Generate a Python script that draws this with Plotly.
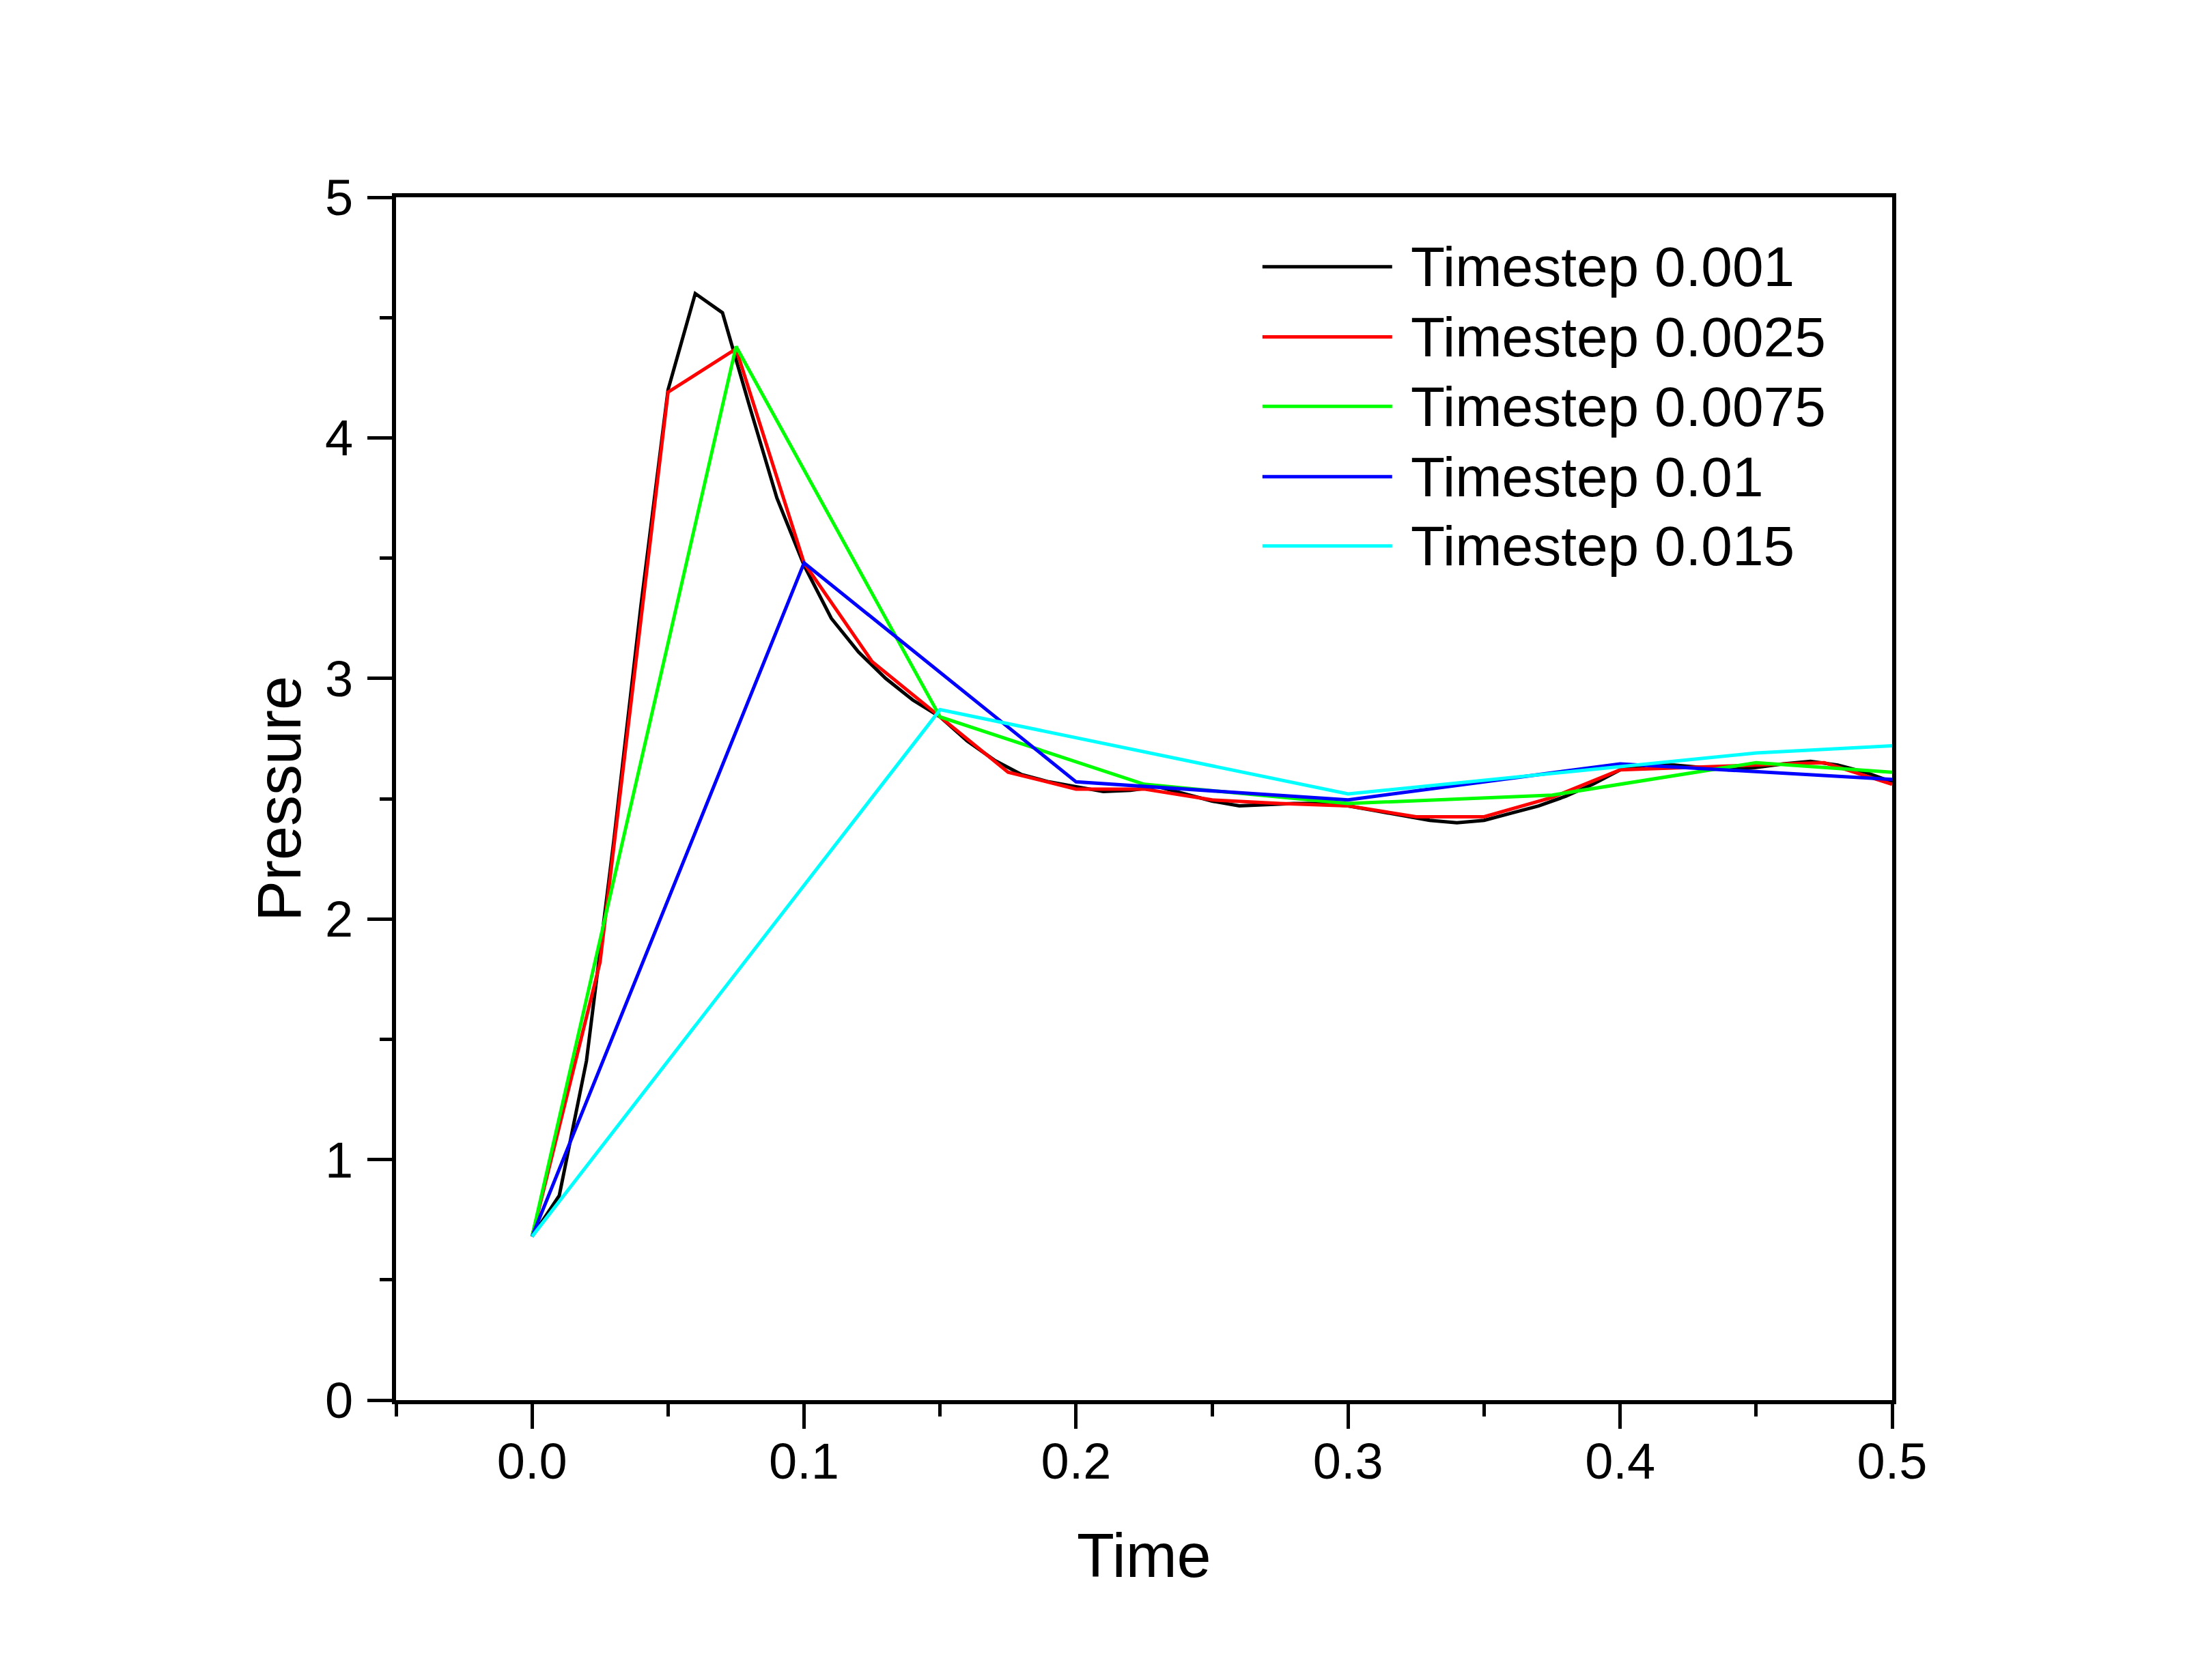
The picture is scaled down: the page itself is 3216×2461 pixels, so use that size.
import plotly.graph_objects as go

# ---- data ----
t_0001 = [0.00, 0.01, 0.02, 0.03, 0.04, 0.05, 0.06, 0.07, 0.08, 0.09,
          0.10, 0.11, 0.12, 0.13, 0.14, 0.15, 0.16, 0.17, 0.18, 0.19,
          0.20, 0.21, 0.22, 0.23, 0.24, 0.25, 0.26, 0.27, 0.28, 0.29,
          0.30, 0.31, 0.32, 0.33, 0.34, 0.35, 0.36, 0.37, 0.38, 0.39,
          0.40, 0.41, 0.42, 0.43, 0.44, 0.45, 0.46, 0.47, 0.48, 0.49, 0.50]
p_0001 = [0.68, 0.85, 1.41, 2.32, 3.30, 4.20, 4.60, 4.52, 4.13, 3.75,
          3.47, 3.25, 3.11, 3.00, 2.91, 2.84, 2.74, 2.66, 2.60, 2.57,
          2.55, 2.53, 2.535, 2.55, 2.52, 2.49, 2.47, 2.475, 2.48, 2.48,
          2.47, 2.45, 2.43, 2.41, 2.40, 2.41, 2.44, 2.47, 2.51, 2.56,
          2.62, 2.64, 2.64, 2.63, 2.62, 2.63, 2.645, 2.655, 2.64, 2.61, 2.57]

t_0025 = [0.0, 0.025, 0.05, 0.075, 0.1, 0.125, 0.15, 0.175, 0.2, 0.225, 0.25,
          0.275, 0.3, 0.325, 0.35, 0.375, 0.4, 0.425, 0.45, 0.475, 0.5]
p_0025 = [0.68, 1.82, 4.19, 4.37, 3.48, 3.07, 2.84, 2.61, 2.54, 2.54, 2.495,
          2.48, 2.47, 2.425, 2.425, 2.505, 2.62, 2.63, 2.64, 2.65, 2.56]

t_0075 = [0.0, 0.075, 0.15, 0.225, 0.3, 0.375, 0.45, 0.5]
p_0075 = [0.68, 4.38, 2.84, 2.56, 2.48, 2.515, 2.65, 2.61]

t_01 = [0.0, 0.1, 0.2, 0.3, 0.4, 0.5]
p_01 = [0.68, 3.48, 2.57, 2.495, 2.645, 2.58]

t_015 = [0.0, 0.15, 0.3, 0.45, 0.5]
p_015 = [0.68, 2.87, 2.52, 2.69, 2.72]

names = ["Timestep 0.001", "Timestep 0.0025", "Timestep 0.0075",
         "Timestep 0.01", "Timestep 0.015"]
colors = ["#000000", "#FF0000", "#00FF00", "#0000FF", "#00FFFF"]
series = [(t_0001, p_0001), (t_0025, p_0025), (t_0075, p_0075),
          (t_01, p_01), (t_015, p_015)]

x_ticks = [0.0, 0.1, 0.2, 0.3, 0.4, 0.5]
y_ticks = [0, 1, 2, 3, 4, 5]

FONT = "Liberation Sans, Arial, sans-serif"

fig = go.Figure()
for (t, p), name, col in zip(series, names, colors):
    fig.add_trace(go.Scatter(x=t, y=p, mode="lines", name=name,
                             line=dict(color=col, width=5)))

axis_common = dict(
    showgrid=False, zeroline=False, showline=True, linecolor="black",
    linewidth=6, mirror=True, ticks="outside", tickwidth=5, tickcolor="black",
    ticklen=36, tickfont=dict(family=FONT, size=74, color="black"),
)

fig.update_xaxes(range=[-0.05, 0.5], tickvals=x_ticks, tickformat=".1f",
                 minor=dict(dtick=0.05, tick0=0, ticks="outside", ticklen=18,
                            tickwidth=5, tickcolor="black"),
                 ticklabelstandoff=-16, **axis_common)
fig.update_yaxes(range=[0, 5], tickvals=y_ticks,
                 minor=dict(dtick=0.5, tick0=0, ticks="outside", ticklen=18,
                            tickwidth=5, tickcolor="black"),
                 ticklabelstandoff=6, **axis_common)

# axis titles
fig.add_annotation(text="Time", xref="paper", yref="paper", x=0.5, y=-0.1,
                   xanchor="center", yanchor="top", showarrow=False,
                   font=dict(family=FONT, size=90, color="black"))
fig.add_annotation(text="Pressure", xref="paper", yref="paper", x=-0.078, y=0.5,
                   xanchor="center", yanchor="middle", textangle=-90,
                   showarrow=False, font=dict(family=FONT, size=90, color="black"))

# legend (long line samples as in the original)
legend_rows = [0.9422, 0.8839, 0.8262, 0.7678, 0.7101]
for name, col, yy in zip(names, colors, legend_rows):
    fig.add_shape(type="line", xref="paper", yref="paper", x0=0.5791, x1=0.6658,
                  y0=yy, y1=yy, line=dict(color=col, width=5))
    fig.add_annotation(text=name, xref="paper", yref="paper", x=0.6772, y=yy,
                       xanchor="left", yanchor="middle", showarrow=False,
                       font=dict(family=FONT, size=82, color="black"))

fig.update_layout(
    width=3216, height=2461,
    margin=dict(l=572, r=453, t=281, b=418),
    paper_bgcolor="white", plot_bgcolor="white",
    showlegend=False,
    font=dict(family=FONT, color="black"),
)

fig.write_html("out.html")
